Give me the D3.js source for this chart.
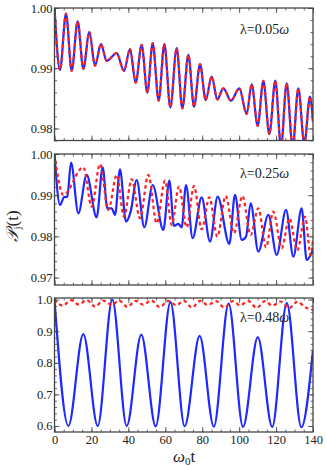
<!DOCTYPE html>
<html lang="en">
  <head>
    <meta charset="utf-8" />
    <style>
      body { margin: 0; background: #fff; }
      text { font-family: "Liberation Serif", "DejaVu Serif", serif; fill: #222; }
    </style>
  </head>
  <body>
    <svg id="chart" width="326" height="466"></svg>
    <script src="https://d3js.org/d3.v7.min.js"></script>
    <script>
      // x ticks (omega_0 t)
      const tMajor = [0, 20, 40, 60, 80, 100, 120, 140];
      const tMinor = d3.range(0, 141, 5);

      // lambda = 0.05 omega : both curves coincide, [t, P]
      const lam005 = [
        [0, 1.0], [2.98, 0.98972], [6.23, 0.99906], [9.3, 0.98956], [12.55, 0.99778],
        [15.62, 0.98989], [18.86, 0.996], [21.93, 0.99044], [25.18, 0.994], [28.25, 0.99122],
        [33.67, 0.9925], [37.64, 0.98956], [40.89, 0.99317], [43.96, 0.98761], [47.21, 0.99389],
        [50.28, 0.98594], [53.17, 0.99417], [56.42, 0.98461], [59.49, 0.994], [62.74, 0.9835],
        [66.17, 0.99333], [69.24, 0.98333], [72.49, 0.99222], [75.56, 0.98361], [78.81, 0.99067],
        [81.88, 0.98472], [85.12, 0.98861], [88.19, 0.98483], [91.44, 0.98667], [95.59, 0.98461],
        [100.1, 0.98667], [104.07, 0.98239], [106.78, 0.98733], [110.03, 0.98044], [113.1, 0.98789],
        [116.35, 0.97906], [119.6, 0.98794], [122.67, 0.97694], [125.74, 0.9875], [128.98, 0.97694],
        [132.05, 0.98667], [135.3, 0.9775], [138.37, 0.98528], [140, 0.98111]
      ];

      // lambda = 0.25 omega
      const lam025Blue = [
        [0, 1.0], [2.98, 0.98763], [5.15, 0.98949], [6.95, 0.98965], [8.94, 0.9979],
        [12.91, 0.98561], [17.42, 0.99491], [22.83, 0.98464], [26.09, 0.99677], [28.61, 0.98682],
        [30.96, 0.98682], [32.77, 0.98521], [35.47, 0.99628], [38.72, 0.98359], [41.25, 0.98601],
        [44.5, 0.99369], [48.65, 0.98221], [53.17, 0.99248], [58.94, 0.98157], [62.19, 0.99353],
        [64.72, 0.98254], [67.07, 0.98302], [68.87, 0.98221], [71.22, 0.99248], [74.83, 0.97955],
        [79.7, 0.98949], [84.21, 0.97874], [88.37, 0.98965], [94.68, 0.97817], [97.76, 0.99006],
        [101.37, 0.97914], [103.72, 0.97995], [106.24, 0.98804], [110.4, 0.97631], [115.81, 0.98521],
        [120.32, 0.97551], [125.38, 0.98642], [129.35, 0.9751], [133.86, 0.98682], [136.57, 0.97429],
        [140, 0.97672]
      ];
      const lam025Red = [
        [0, 1.0], [4.78, 0.99006], [15.62, 0.99677], [20.13, 0.98723], [24.64, 0.99757],
        [29.15, 0.98642], [33.67, 0.99491], [37.64, 0.9848], [41.79, 0.99386], [46.3, 0.9844],
        [50.81, 0.99491], [55.33, 0.98319], [59.84, 0.99353], [63.45, 0.98278], [67.43, 0.99208],
        [71.58, 0.98221], [75.55, 0.99224], [79.7, 0.98173], [83.86, 0.98949], [88.19, 0.97995],
        [92.7, 0.98981], [97.22, 0.98076], [101.73, 0.98981], [106.24, 0.98036], [110.4, 0.98682],
        [114.55, 0.97736], [118.52, 0.98601], [123.03, 0.97712], [127.18, 0.9844], [131.52, 0.97656],
        [135.67, 0.9848], [138.74, 0.97551], [140, 0.97914]
      ];

      // lambda = 0.48 omega
      const lam048Blue = [
        [0, 1.0], [7.5, 0.6], [15.6, 0.891], [23.4, 0.6], [31.3, 1.0], [39.1, 0.6],
        [47.0, 0.889], [54.8, 0.599], [62.8, 0.992], [70.5, 0.599], [78.6, 0.885],
        [86.3, 0.598], [94.3, 0.987], [102.1, 0.597], [110.1, 0.881], [117.9, 0.597],
        [125.8, 0.989], [133.7, 0.596], [140, 0.84]
      ];
      const lam048Red = [
        [0, 1.0], [4.5, 0.981], [9, 0.998], [13, 0.985], [17.5, 0.998], [22, 0.978],
        [26.5, 0.997], [31, 0.983], [35, 0.997], [39.5, 0.977], [44, 0.996], [48, 0.984],
        [52.5, 0.997], [57, 0.976], [61.5, 0.996], [66, 0.982], [70, 0.996], [74.5, 0.975],
        [79, 0.996], [83, 0.983], [87.5, 0.995], [92, 0.975], [96.5, 0.995], [100.5, 0.982],
        [105, 0.995], [109.5, 0.974], [114, 0.995], [118, 0.981], [122.5, 0.994], [127, 0.973],
        [131.5, 0.993], [136, 0.975], [140, 0.968]
      ];

      const panels = [
        { label: "0.05", top: 8, bottom: 140.5, domain: [0.978, 1.0],
          major: [0.98, 0.99, 1.0], minor: d3.range(0.978, 1.0001, 0.002), fmt: ".2f",
          blue: lam005, red: lam005, labelY: 34 },
        { label: "0.25", top: 154, bottom: 285, domain: [0.9682, 1.0],
          major: [0.97, 0.98, 0.99, 1.0], minor: d3.range(0.97, 1.0001, 0.002), fmt: ".2f",
          blue: lam025Blue, red: lam025Red, labelY: 178 },
        { label: "0.48", top: 298, bottom: 432, domain: [0.581, 1.005],
          major: [0.6, 0.7, 0.8, 0.9, 1.0], minor: d3.range(0.6, 1.0001, 0.02), fmt: ".1f",
          blue: lam048Blue, red: lam048Red, labelY: 322 }
      ];

      const left = 54.5, right = 313;
      const svg = d3.select("#chart");
      const x = d3.scaleLinear().domain([0, 140]).range([left, right]);

      panels.forEach((p, i) => {
        const y = d3.scaleLinear().domain(p.domain).range([p.bottom, p.top]);
        const g = svg.append("g");

        g.append("clipPath").attr("id", "clip" + i)
          .append("rect")
          .attr("x", left).attr("y", p.top)
          .attr("width", right - left).attr("height", p.bottom - p.top);

        const line = d3.line()
          .x(d => x(d[0]))
          .y(d => y(d[1]))
          .curve(d3.curveMonotoneX);

        const plot = g.append("g").attr("clip-path", `url(#clip${i})`);
        plot.append("path")
          .attr("d", line(p.blue))
          .attr("fill", "none")
          .attr("stroke", "#1e28ff")
          .attr("stroke-width", 2.2);
        plot.append("path")
          .attr("d", line(p.red))
          .attr("fill", "none")
          .attr("stroke", "#ff2020")
          .attr("stroke-width", 2.2)
          .attr("stroke-dasharray", "3.5,3");

        // frame ticks, pointing inward
        const addAxis = (axis, tx, ty, vals, size, showLabels) => {
          const a = g.append("g")
            .attr("transform", `translate(${tx},${ty})`)
            .call(axis.tickValues(vals).tickSize(size).tickSizeOuter(0)
              .tickFormat(showLabels || (() => "")));
          a.select(".domain").remove();
          a.selectAll("line").attr("stroke", "#444").attr("stroke-width", 0.8);
          a.selectAll("text").attr("font-size", 12.5).attr("fill", "#222")
            .attr("font-family", "Liberation Serif");
          return a;
        };

        const fy = d3.format(p.fmt);
        addAxis(d3.axisLeft(y), left, 0, p.major, -5, d => fy(d)).selectAll("text").attr("dx", 1);
        addAxis(d3.axisLeft(y), left, 0, p.minor, -2.5, null);
        addAxis(d3.axisRight(y), right, 0, p.major, -5, null);
        addAxis(d3.axisRight(y), right, 0, p.minor, -2.5, null);
        addAxis(d3.axisTop(x), 0, p.top, tMajor, -5, null);
        addAxis(d3.axisTop(x), 0, p.top, tMinor, -2.5, null);
        addAxis(d3.axisBottom(x), 0, p.bottom, tMajor, -5,
          i === 2 ? (d => d) : null);
        addAxis(d3.axisBottom(x), 0, p.bottom, tMinor, -2.5, null);

        g.append("rect")
          .attr("x", left).attr("y", p.top)
          .attr("width", right - left).attr("height", p.bottom - p.top)
          .attr("fill", "none")
          .attr("stroke", "#444")
          .attr("stroke-width", 1.3);

        const lab = g.append("text")
          .attr("x", 240).attr("y", p.labelY)
          .attr("font-size", 14);
        lab.append("tspan").text("λ=" + p.label);
        lab.append("tspan").attr("font-style", "italic").text("ω");
      });

      // axis titles
      const xt = svg.append("text")
        .attr("x", 184).attr("y", 462)
        .attr("text-anchor", "middle")
        .attr("font-size", 17);
      xt.append("tspan").attr("font-style", "italic").text("ω");
      xt.append("tspan").attr("font-size", 11).attr("dy", 3).text("0");
      xt.append("tspan").attr("dy", -3).text("t");

      const yt = svg.append("text")
        .attr("transform", "translate(18,226) rotate(-90)")
        .attr("text-anchor", "middle")
        .attr("font-size", 17);
      yt.append("tspan").attr("font-family", "DejaVu Serif").attr("font-style", "italic").text("𝒫");
      yt.append("tspan").attr("font-size", 11).attr("dy", 3).text("j");
      yt.append("tspan").attr("dy", -3).text("(t)");
    </script>
  </body>
</html>
